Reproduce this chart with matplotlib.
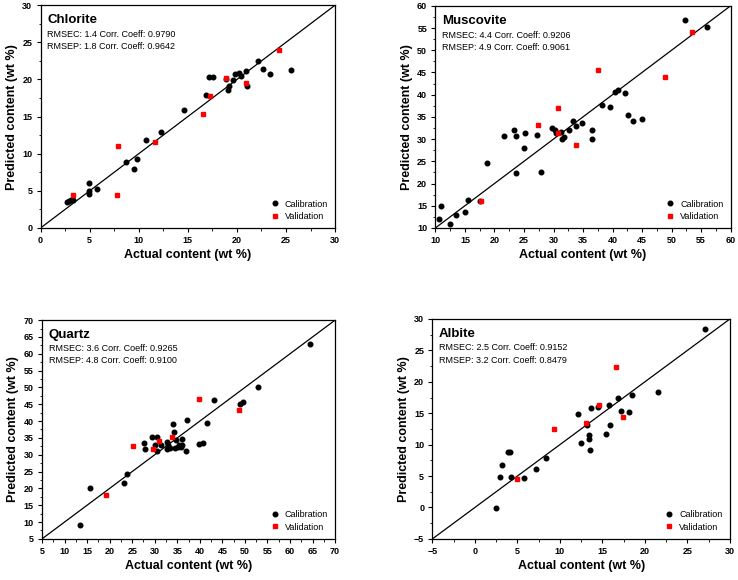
import matplotlib
matplotlib.use("Agg")
import matplotlib.pyplot as plt
from matplotlib.ticker import MultipleLocator

plt.rcParams['font.family'] = ['Liberation Sans', 'DejaVu Sans']

# ---------------- data ----------------
chl_cal_x = [2.65, 2.88, 3.05, 3.26, 4.95, 4.95, 4.95, 5.77, 8.75, 9.54, 9.84, 10.76, 12.28, 14.63,
             16.87, 17.14, 17.54, 18.93, 19.07, 19.17, 19.58, 19.78, 20.19, 20.46, 20.97, 21.00,
             22.19, 22.67, 23.38, 25.48]
chl_cal_y = [3.50, 3.64, 3.73, 3.77, 6.11, 4.94, 4.58, 5.25, 8.85, 7.95, 9.25, 11.90, 12.89, 15.90,
             17.96, 20.34, 20.34, 20.03, 18.59, 19.17, 19.89, 20.79, 20.88, 20.43, 21.19, 19.17,
             22.45, 21.46, 20.74, 21.24]
chl_val_x = [3.29, 7.84, 7.74, 11.64, 16.56, 17.27, 18.87, 20.90, 24.26]
chl_val_y = [4.45, 11.05, 4.45, 11.63, 15.40, 17.78, 20.25, 19.53, 23.93]

mus_cal_x = [10.56, 10.96, 12.54, 13.44, 14.97, 15.47, 17.50, 18.69, 21.68, 23.26, 23.66, 23.60,
             25.07, 25.24, 27.21, 27.88, 29.75, 30.25, 30.48, 31.22, 31.44, 31.83, 32.62, 33.35,
             33.75, 34.77, 36.58, 36.58, 38.16, 39.56, 40.36, 40.87, 42.11, 42.62, 43.41, 45.05,
             52.21, 56.05]
mus_cal_y = [11.95, 15.04, 10.83, 13.01, 13.53, 16.24, 16.17, 24.59, 30.75, 31.95, 30.75, 22.41,
             28.05, 31.28, 30.98, 22.63, 32.41, 32.03, 31.28, 31.50, 30.08, 30.45, 32.03, 34.06,
             33.01, 33.53, 32.03, 30.08, 37.59, 37.14, 40.68, 41.13, 40.45, 35.34, 33.98, 34.59,
             56.77, 55.34]
mus_val_x = [17.67, 27.32, 30.72, 30.83, 33.87, 37.54, 48.88, 53.40]
mus_val_y = [16.02, 33.08, 36.99, 31.28, 28.65, 45.49, 43.98, 54.14]

qtz_cal_x = [13.51, 15.72, 23.12, 23.93, 27.56, 27.78, 29.48, 30.07, 30.44, 30.44, 31.40, 32.66,
             32.66, 33.03, 33.40, 34.14, 34.36, 34.51, 34.66, 35.18, 35.47, 35.77, 36.07, 36.14,
             36.95, 37.25, 39.84, 40.65, 41.61, 43.09, 48.86, 49.53, 53.00, 64.39]
qtz_cal_y = [9.06, 20.15, 21.53, 24.21, 33.61, 31.83, 35.30, 32.92, 35.40, 31.14, 33.02, 33.71,
             31.83, 32.92, 31.93, 39.06, 36.78, 32.03, 34.50, 32.43, 32.92, 32.33, 32.82, 34.60,
             31.24, 40.25, 33.32, 33.51, 39.55, 46.29, 45.10, 45.79, 50.05, 62.92]
qtz_val_x = [19.13, 25.27, 29.56, 31.04, 33.77, 39.91, 48.71]
qtz_val_y = [18.17, 32.52, 31.83, 34.21, 35.40, 46.58, 43.22]

alb_cal_x = [2.53, 2.92, 3.23, 3.86, 4.09, 4.25, 5.82, 7.19, 8.41, 12.17, 12.48, 13.23, 13.38,
             13.38, 13.58, 13.66, 14.48, 15.46, 15.74, 15.93, 16.83, 17.15, 18.13, 18.44, 21.50,
             27.07]
alb_cal_y = [-0.12, 4.92, 6.83, 8.79, 8.79, 4.92, 4.71, 6.19, 7.94, 14.94, 10.33, 13.09, 11.55,
             10.97, 9.11, 15.84, 16.06, 11.71, 16.37, 13.14, 17.49, 15.37, 15.26, 17.96, 18.44,
             28.41]
alb_val_x = [4.92, 9.35, 13.03, 14.64, 16.56, 17.42]
alb_val_y = [4.60, 12.56, 13.46, 16.37, 22.36, 14.36]

titles = ["Chlorite", "Muscovite", "Quartz", "Albite"]
stats = [("RMSEC: 1.4 Corr. Coeff: 0.9790", "RMSEP: 1.8 Corr. Coeff: 0.9642"),
         ("RMSEC: 4.4 Corr. Coeff: 0.9206", "RMSEP: 4.9 Corr. Coeff: 0.9061"),
         ("RMSEC: 3.6 Corr. Coeff: 0.9265", "RMSEP: 4.8 Corr. Coeff: 0.9100"),
         ("RMSEC: 2.5 Corr. Coeff: 0.9152", "RMSEP: 3.2 Corr. Coeff: 0.8479")]
limits = [(0, 30), (10, 60), (5, 70), (-5, 30)]
xlabel = "Actual content (wt %)"
ylabel = "Predicted content (wt %)"

# ---------------- plot ----------------
fig = plt.figure(figsize=(7.38, 5.8), dpi=100)
rects = [[0.055, 0.607, 0.399, 0.384],
         [0.590, 0.607, 0.400, 0.383],
         [0.057, 0.071, 0.397, 0.377],
         [0.586, 0.071, 0.403, 0.379]]
datasets = [(chl_cal_x, chl_cal_y, chl_val_x, chl_val_y),
            (mus_cal_x, mus_cal_y, mus_val_x, mus_val_y),
            (qtz_cal_x, qtz_cal_y, qtz_val_x, qtz_val_y),
            (alb_cal_x, alb_cal_y, alb_val_x, alb_val_y)]

for rect, (cx, cy, vx, vy), title, (s1, s2), (lo, hi) in zip(rects, datasets, titles, stats, limits):
    ax = fig.add_axes(rect)
    ax.plot([lo, hi], [lo, hi], color='black', lw=0.9, zorder=1)
    ax.plot(cx, cy, 'o', color='black', ms=3.3, ls='none', label='Calibration', zorder=3)
    ax.plot(vx, vy, 's', color='#ff0000', ms=3.0, ls='none', label='Validation', zorder=3)
    ax.set_xlim(lo, hi)
    ax.set_ylim(lo, hi)
    ax.xaxis.set_major_locator(MultipleLocator(5))
    ax.yaxis.set_major_locator(MultipleLocator(5))
    ax.xaxis.set_minor_locator(MultipleLocator(2.5))
    ax.yaxis.set_minor_locator(MultipleLocator(2.5))
    ax.tick_params(which='major', direction='out', length=3, width=0.8, labelsize=6.5, pad=3)
    ax.tick_params(which='minor', direction='out', length=1.8, width=0.6)
    for lab in ax.get_xticklabels() + ax.get_yticklabels():
        lab.set_fontweight('bold')
    for sp in ax.spines.values():
        sp.set_linewidth(0.9)
    ax.set_xlabel(xlabel, fontsize=9, fontweight='bold', labelpad=3)
    ax.set_ylabel(ylabel, fontsize=9, fontweight='bold', labelpad=3)
    ax.text(0.022, 0.92, title, transform=ax.transAxes, fontsize=9.5, fontweight='bold', va='baseline')
    ax.text(0.022, 0.857, s1, transform=ax.transAxes, fontsize=6.5, va='baseline')
    ax.text(0.022, 0.802, s2, transform=ax.transAxes, fontsize=6.5, va='baseline')
    ax.legend(loc='lower right', frameon=False, fontsize=6.5, handletextpad=0.6,
              labelspacing=0.35, borderaxespad=0.4, handlelength=1.0)

fig.savefig("out.png", dpi=100)
